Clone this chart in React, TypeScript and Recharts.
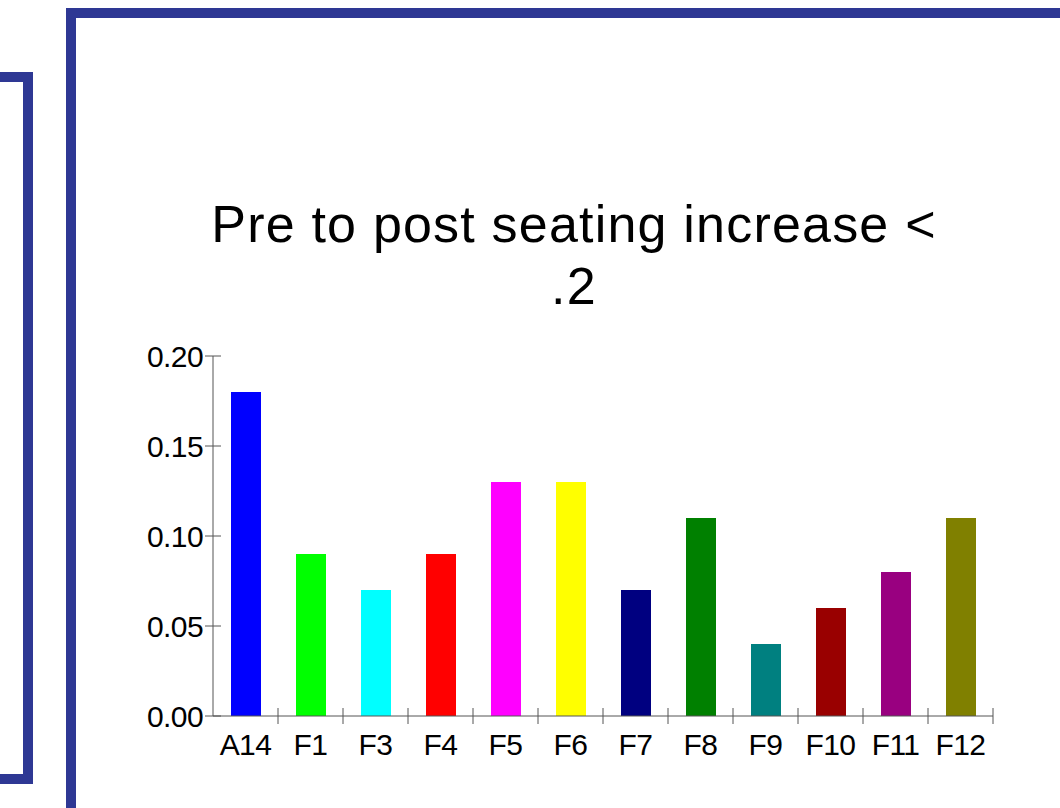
import React from 'react';
import { BarChart, Bar, XAxis, YAxis, Cell } from 'recharts';

const categories = ['A14', 'F1', 'F3', 'F4', 'F5', 'F6', 'F7', 'F8', 'F9', 'F10', 'F11', 'F12'];
const increase = [0.18, 0.09, 0.07, 0.09, 0.13, 0.13, 0.07, 0.11, 0.04, 0.06, 0.08, 0.11];
const barColors = [
    '#0000FF', '#00FF00', '#00FFFF', '#FF0000', '#FF00FF', '#FFFF00',
    '#000080', '#008000', '#008080', '#990000', '#990080', '#808000',
];
const yTicks = [0, 0.05, 0.1, 0.15, 0.2];
const titleLines = ['Pre to post seating increase <', '.2'];

const FONT = '"Liberation Sans", Arial, sans-serif';
const AXIS = '#555555';
const FRAME = '#2E3894';

const data = categories.map((name, i) => ({ name, value: increase[i] }));

// y ticks cross the axis line
const YTick = (props: any) => {
    const { x, y, payload } = props;
    return (
        <g>
            <line x1={x + 2} x2={x + 18} y1={y} y2={y} stroke={AXIS} />
            <text x={x} y={y} dy="0.36em" textAnchor="end" fontFamily={FONT} fontSize={30} letterSpacing={-0.6} fill="#000">
                {Number(payload.value).toFixed(2)}
            </text>
        </g>
    );
};

// x ticks sit on category boundaries, labels at centers
const XTick = (props: any) => {
    const { x, y, payload, width, visibleTicksCount } = props;
    const half = width && visibleTicksCount ? width / visibleTicksCount / 2 : 32.5;
    return (
        <g>
            <line x1={x + half} x2={x + half} y1={y - 26} y2={y - 10} stroke={AXIS} />
            <text x={x} y={y} dy="0.71em" textAnchor="middle" fontFamily={FONT} fontSize={30} letterSpacing={-0.6} fill="#000">
                {payload.value}
            </text>
        </g>
    );
};

export default function App() {
    return (
        <div style={{ position: 'absolute', left: 0, top: 0, width: 1060, height: 808, overflow: 'hidden', background: '#fff' }}>
            {/* decorative slide frames */}
            <div style={{ position: 'absolute', left: -20, top: 72, width: 53, height: 712, border: `10px solid ${FRAME}`, boxSizing: 'border-box' }} />
            <div style={{ position: 'absolute', left: 66, top: 8, width: 1100, height: 900, border: `10px solid ${FRAME}`, boxSizing: 'border-box' }} />

            {titleLines.map((line, i) => (
                <div
                    key={i}
                    style={{
                        position: 'absolute', left: 174, width: 800, top: 193 + i * 62,
                        textAlign: 'center', fontFamily: FONT, fontSize: 52, lineHeight: '62px',
                        letterSpacing: 1.2, color: '#000', whiteSpace: 'nowrap',
                    }}
                >
                    {line}
                </div>
            ))}

            <div style={{ position: 'absolute', left: 0, top: 0 }}>
                <BarChart width={1060} height={808} data={data} margin={{ top: 356, right: 67, bottom: 62, left: 153 }} barSize={30}>
                    <XAxis
                        dataKey="name"
                        height={30}
                        stroke={AXIS}
                        tickLine={false}
                        tickSize={8}
                        tickMargin={10}
                        interval={0}
                        tick={<XTick />}
                    />
                    <YAxis
                        width={60}
                        domain={[0, 0.2]}
                        ticks={yTicks}
                        stroke={AXIS}
                        tickLine={false}
                        tickSize={8}
                        tickMargin={2}
                        interval={0}
                        tick={<YTick />}
                    />
                    <Bar dataKey="value" isAnimationActive={false}>
                        {data.map((d, i) => (
                            <Cell key={d.name} fill={barColors[i]} />
                        ))}
                    </Bar>
                </BarChart>
            </div>
        </div>
    );
}
